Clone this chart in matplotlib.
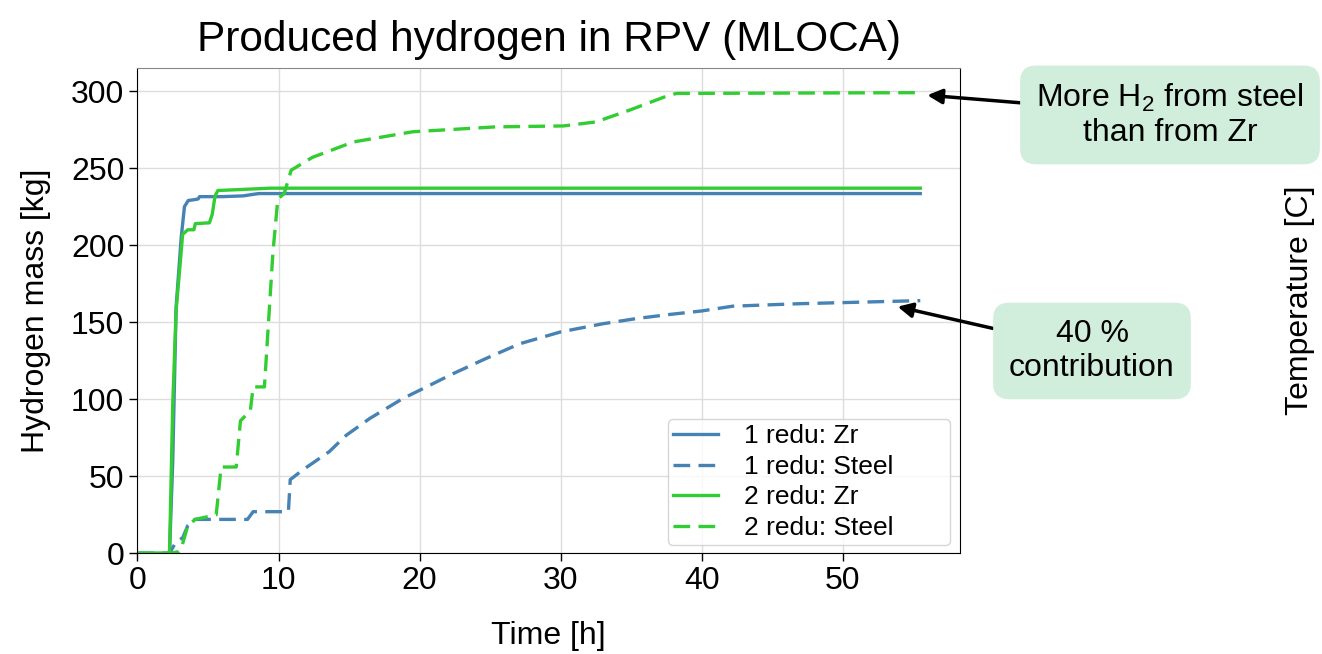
import matplotlib
matplotlib.use("Agg")
import matplotlib.pyplot as plt

plt.rcParams['font.family'] = ['Liberation Sans', 'DejaVu Sans']
plt.rcParams['mathtext.default'] = 'regular'

# 1 redu: Zr
t_zr1 = [0, 2.27, 2.5, 2.74, 2.9, 3.1, 3.33, 3.6, 4.0, 4.3, 4.4, 6.0, 7.5, 8.2, 8.6, 20, 40, 55.5]
h_zr1 = [0, 0, 60, 160, 180, 205, 225, 229, 229.5, 230, 231.5, 231.5, 232, 233, 233.5, 233.5, 233.5, 233.5]

# 1 redu: Steel
t_st1 = [0, 2.27, 2.74, 3.2, 3.57, 4.05, 7.8, 8.2, 10.7, 10.83, 11.7, 13.6, 14.8, 16.45, 18.8,
         20, 22.4, 24.7, 27.1, 30, 33, 35.4, 37.7, 40, 42.2, 46.9, 55.5]
h_st1 = [0, 0, 7.5, 10, 18, 22, 22, 27, 27, 47.8, 54, 66, 76.6, 87.4, 100.4,
         105.8, 116.7, 126.4, 136, 143.7, 149, 152.4, 155, 157.3, 160.4, 162, 164]

# 2 redu: Zr
t_zr2 = [0, 2.27, 2.5, 2.74, 3.0, 3.2, 3.57, 4.0, 4.1, 5.1, 5.3, 5.5, 5.7, 7.0, 9.4, 55.5]
h_zr2 = [0, 0, 97, 158, 185, 207, 210, 210, 214, 214.5, 220, 232, 235.5, 236, 237, 237]

# 2 redu: Steel
t_st2 = [0, 2.27, 2.9, 3.1, 3.57, 4.1, 5.58, 5.93, 7.0, 7.3, 8.0, 8.2, 9.0, 9.6, 9.95, 10.4,
         10.9, 12.4, 15.3, 19.5, 25.4, 30.2, 32.5, 34.9, 37.3, 38.2, 45, 55.5]
h_st2 = [0, 0, 1, 3, 18, 22, 25, 56, 56, 86, 92.5, 108, 108, 195, 230, 233.5,
         248.7, 257, 267, 273.6, 276.8, 277.4, 280, 287.7, 296, 298.5, 298.7, 299]

blue = 'steelblue'
green = 'limegreen'
dash = (0, (5, 2.5))

fig = plt.figure(figsize=(13.22, 6.54), dpi=100)
ax = fig.add_axes([0.104, 0.154, 0.622, 0.742])

ax.plot(t_zr1, h_zr1, color=blue, lw=2.4, label='1 redu: Zr')
ax.plot(t_st1, h_st1, color=blue, lw=2.4, ls=dash, label='1 redu: Steel')
ax.plot(t_zr2, h_zr2, color=green, lw=2.4, label='2 redu: Zr')
ax.plot(t_st2, h_st2, color=green, lw=2.4, ls=dash, label='2 redu: Steel')

ax.set_xlim(0, 58.3)
ax.set_ylim(0, 315)
ax.set_xticks([0, 10, 20, 30, 40, 50])
ax.set_yticks([0, 50, 100, 150, 200, 250, 300])
ax.grid(True, color='#dddddd', lw=1)
ax.set_axisbelow(True)
ax.tick_params(labelsize=23, length=6, width=1)
ax.spines['top'].set_color('#888888')

ax.set_title('Produced hydrogen in RPV (MLOCA)', fontsize=30.5, pad=12)
ax.set_xlabel('Time [h]', fontsize=23, labelpad=18)
ax.set_ylabel('Hydrogen mass [kg]', fontsize=23, labelpad=14)

leg = ax.legend(loc='lower left', bbox_to_anchor=(0.645, 0.0165, 0.343, 0.258), mode='expand',
                borderaxespad=0, borderpad=0.2, fontsize=19, handlelength=1.7,
                handletextpad=1.0, labelspacing=0.25, fancybox=True)

fig.text(1300 / 1322, 1 - 300 / 654, 'Temperature [C]', rotation=90,
         ha='center', va='center', fontsize=23)

box = dict(boxstyle='round,pad=0.5', fc='#d0eedb', ec='none')
arrow = dict(arrowstyle='-|>', color='black', lw=2.5, mutation_scale=22, shrinkA=0, shrinkB=2)

ax.annotate('More H$_2$ from steel\nthan from Zr', xy=(55.8, 297.5), xycoords='data',
            xytext=(1170 / 1322, 1 - 115 / 654), textcoords='figure fraction',
            ha='center', va='center', fontsize=23, bbox=box, arrowprops=arrow,
            annotation_clip=False)
ax.annotate('40 %\ncontribution', xy=(53.7, 160.5), xycoords='data',
            xytext=(1092 / 1322, 1 - 351 / 654), textcoords='figure fraction',
            ha='center', va='center', fontsize=23, bbox=box, arrowprops=arrow,
            annotation_clip=False)

fig.savefig('out.png', dpi=100)
